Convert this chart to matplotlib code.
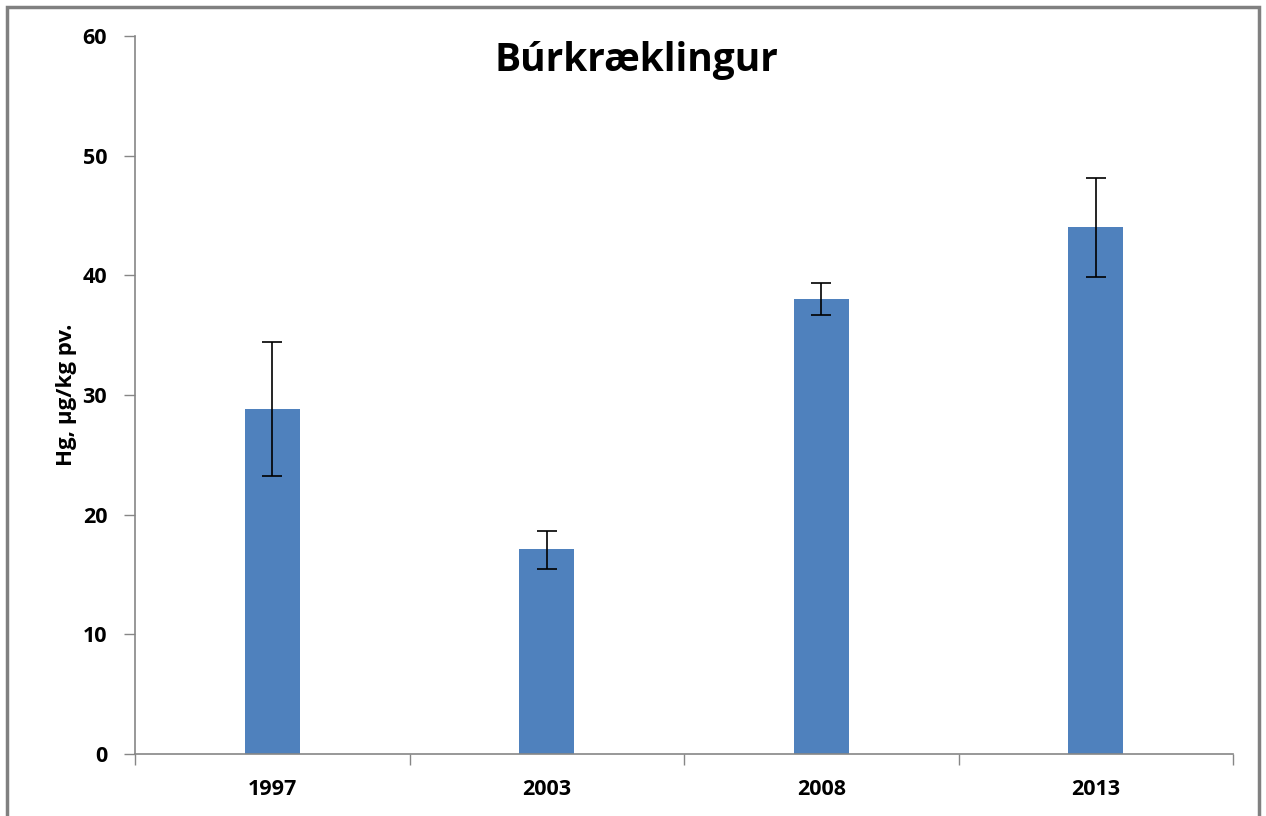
import matplotlib
matplotlib.use("Agg")
import matplotlib.pyplot as plt
from matplotlib.patches import Rectangle
import numpy as np

years = ["1997", "2003", "2008", "2013"]
hg_mean = [28.8, 17.1, 38.0, 44.0]
err_upper = [5.6, 1.5, 1.4, 4.1]
err_lower = [5.6, 1.6, 1.3, 4.1]

title = "Búrkræklingur"
ylabel = "Hg, µg/kg pv."

bar_color = "#4F81BD"
axis_color = "#868686"

plt.rcParams["font.family"] = ["Open Sans", "DejaVu Sans"]

fig = plt.figure(figsize=(12.66, 8.16), dpi=100)
ax = fig.add_axes([135 / 1266, 1 - 754 / 816, 1098 / 1266, 718 / 816])

x = np.arange(len(years))
ax.bar(x, hg_mean, width=0.2, color=bar_color, zorder=2)
ax.errorbar(x, hg_mean, yerr=[err_lower, err_upper], fmt="none",
            ecolor="black", elinewidth=1.2, capsize=7, capthick=1.2, zorder=3)

ax.set_xlim(-0.5, len(years) - 0.5)
ax.set_ylim(0, 60)
ax.set_yticks(range(0, 61, 10))
ax.set_xticks(np.arange(-0.5, len(years), 1.0))
ax.set_xticklabels([])
ax.set_xticks(x, minor=True)
ax.set_xticklabels(years, minor=True)
ax.tick_params(axis="x", which="major", length=8, width=1, color=axis_color,
               direction="out")
ax.tick_params(axis="x", which="minor", length=0, pad=18, labelsize=15.5)
ax.tick_params(axis="y", length=8, width=1, color=axis_color,
               direction="out", pad=12, labelsize=15.5)
for lbl in ax.get_xticklabels(minor=True) + ax.get_yticklabels():
    lbl.set_fontweight("bold")

for side in ["top", "right"]:
    ax.spines[side].set_visible(False)
for side in ["left", "bottom"]:
    ax.spines[side].set_color(axis_color)
    ax.spines[side].set_linewidth(1.2)

ax.set_ylabel(ylabel, fontsize=16, fontweight="bold", labelpad=4)
fig.text(636 / 1266, 1 - 60 / 816, title, fontsize=28, fontweight="bold",
         ha="center", va="center")

# outer chart-area frame
fig.patches.append(Rectangle((7 / 1266, -0.05), 1252 / 1266, 1.05 - 7 / 816,
                             transform=fig.transFigure, fill=False,
                             edgecolor="#808080", linewidth=2.5))

fig.savefig("out.png", dpi=100)
